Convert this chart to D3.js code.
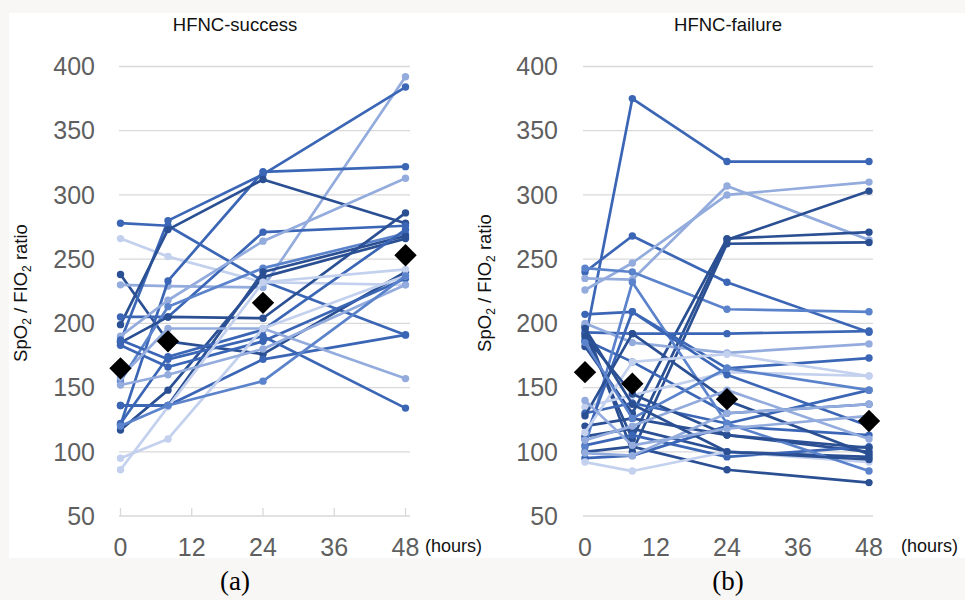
<!DOCTYPE html>
<html>
<head>
<meta charset="utf-8">
<script src="https://cdn.jsdelivr.net/npm/d3@7"></script>
<style>
  body { margin: 0; background: #f8f7f5; }
  svg { display: block; font-family: 'Liberation Sans', Arial, sans-serif; }
</style>
</head>
<body>
<div id="chart"></div>
<script>
// sampling times (hours)
const hours = [0, 8, 24, 48]
const xTicks = [0, 12, 24, 36, 48]
const yTicks = [50, 100, 150, 200, 250, 300, 350, 400]

// HFNC-success patients: SpO2/FIO2 at 0, 8, 24, 48 h
const successSeries = [
  [278, 276, 233, 191],
  [266, 252, 232, 230],
  [238, 186, 176, 240],
  [230, 229, 228, 392],
  [186, 280, 316, 384],
  [121, 233, 318, 322],
  [199, 273, 312, 278],
  [205, 205, 271, 276],
  [190, 218, 264, 313],
  [155, 213, 243, 270],
  [185, 205, 204, 286],
  [136, 136, 240, 268],
  [117, 148, 236, 266],
  [122, 174, 195, 273],
  [183, 166, 186, 235],
  [136, 136, 172, 191],
  [187, 172, 190, 134],
  [158, 196, 196, 157],
  [95, 110, 196, 237],
  [86, 135, 232, 242],
  [152, 160, 180, 230],
  [120, 136, 155, 237]
]
const successShade = [3, 0, 4, 1, 3, 3, 4, 3, 1, 2, 4, 4, 4, 3, 3, 3, 3, 1, 0, 0, 1, 2]
const successMean = [165, 186, 216, 253]

// HFNC-failure patients
const failureSeries = [
  [186, 375, 326, 326],
  [240, 268, 232, 193],
  [226, 247, 300, 310],
  [235, 234, 307, 265],
  [243, 240, 211, 209],
  [192, 110, 265, 303],
  [198, 100, 262, 263],
  [182, 130, 266, 271],
  [207, 209, 165, 173],
  [193, 192, 192, 194],
  [200, 185, 177, 184],
  [187, 170, 130, 137],
  [135, 144, 162, 159],
  [130, 138, 122, 148],
  [120, 126, 113, 100],
  [112, 118, 100, 96],
  [105, 113, 96, 104],
  [100, 104, 86, 76],
  [95, 97, 120, 113],
  [92, 85, 100, 92],
  [104, 232, 122, 85],
  [110, 209, 160, 120],
  [128, 192, 140, 98],
  [115, 170, 176, 159],
  [190, 145, 113, 103],
  [185, 126, 165, 148],
  [99, 97, 130, 137],
  [109, 120, 148, 110],
  [196, 137, 100, 94],
  [140, 105, 118, 128]
]
const failureShade = [3, 3, 1, 1, 2, 4, 4, 4, 3, 3, 1, 3, 0, 3, 4, 4, 3, 4, 3, 0, 2, 3, 4, 0, 4, 2, 1, 1, 4, 1]
const failureMean = [162, 153, 141, 124]

const blues = ['#c3d1ee', '#93acdd', '#5b83cc', '#3b66b6', '#2a4f93']

const width = 965
const height = 600

const svg = d3.select('#chart').append('svg')
  .attr('width', width)
  .attr('height', height)

svg.append('rect')
  .attr('x', 9).attr('y', 13)
  .attr('width', width - 9).attr('height', 545)
  .attr('fill', '#ffffff')

const y = d3.scaleLinear().domain([50, 400]).range([516, 66.5])

function panel (opts) {
  const x = d3.scaleLinear().domain([0, 48]).range(opts.xRange)
  const g = svg.append('g')

  // title
  g.append('text')
    .attr('x', opts.center).attr('y', 31)
    .attr('text-anchor', 'middle')
    .attr('font-size', '18.5px')
    .attr('fill', '#111')
    .text(opts.title)

  // grid
  g.append('g').selectAll('line')
    .data(yTicks)
    .join('line')
    .attr('x1', opts.gridX[0]).attr('x2', opts.gridX[1])
    .attr('y1', d => y(d)).attr('y2', d => y(d))
    .attr('stroke', '#d9d9d9')
    .attr('stroke-width', 1.3)

  if (opts.tickMarks) {
    g.append('g').selectAll('line')
      .data(xTicks)
      .join('line')
      .attr('x1', d => x(d)).attr('x2', d => x(d))
      .attr('y1', y(50) - 8).attr('y2', y(50))
      .attr('stroke', '#d9d9d9')
      .attr('stroke-width', 1.3)
  }

  // y tick labels
  g.append('g').selectAll('text')
    .data(yTicks)
    .join('text')
    .attr('x', opts.yLabelX)
    .attr('y', d => y(d))
    .attr('dy', '0.35em')
    .attr('text-anchor', 'end')
    .attr('font-size', '25px')
    .attr('fill', '#5f5f5f')
    .text(d => d)

  // x tick labels
  g.append('g').selectAll('text')
    .data(xTicks)
    .join('text')
    .attr('x', d => x(d))
    .attr('y', 556)
    .attr('text-anchor', 'middle')
    .attr('font-size', '25px')
    .attr('fill', '#5f5f5f')
    .text(d => d)

  g.append('text')
    .attr('x', opts.hoursX).attr('y', 552)
    .attr('font-size', '18px')
    .attr('fill', '#111')
    .text('(hours)')

  // y axis title
  const yt = g.append('text')
    .attr('transform', `translate(${opts.yTitleX},${opts.yTitleY}) rotate(-90)`)
    .attr('text-anchor', 'middle')
    .attr('font-size', '18.5px')
    .attr('fill', '#111')
  yt.append('tspan').text('SpO')
  yt.append('tspan').attr('font-size', '12px').attr('dy', 4).text('2')
  yt.append('tspan').attr('dy', -4).text(' / FIO')
  yt.append('tspan').attr('font-size', '12px').attr('dy', 4).text('2')
  yt.append('tspan').attr('dy', -4).text(' ratio')

  // patient lines
  const line = d3.line()
    .x((d, i) => x(hours[i]))
    .y(d => y(d))

  const series = g.append('g').selectAll('g')
    .data(opts.series)
    .join('g')
    .attr('fill', (d, i) => blues[opts.shade[i]])
    .attr('stroke', (d, i) => blues[opts.shade[i]])

  series.append('path')
    .attr('d', d => line(d))
    .attr('fill', 'none')
    .attr('stroke-width', 2.7)
    .attr('stroke-linejoin', 'round')

  series.selectAll('circle')
    .data(d => d)
    .join('circle')
    .attr('cx', (d, i) => x(hours[i]))
    .attr('cy', d => y(d))
    .attr('r', 3.7)
    .attr('stroke', 'none')

  // mean markers
  g.append('g').selectAll('path')
    .data(opts.mean)
    .join('path')
    .attr('d', d3.symbol(d3.symbolSquare, 250))
    .attr('transform', (d, i) => `translate(${x(hours[i])},${y(d)}) rotate(45)`)
    .attr('fill', '#000')

  // panel letter
  svg.append('text')
    .attr('x', opts.center).attr('y', 590)
    .attr('text-anchor', 'middle')
    .attr('font-family', "'Liberation Serif', 'Times New Roman', serif")
    .attr('font-size', '27px')
    .attr('fill', '#000')
    .text(opts.letter)
}

panel({
  title: 'HFNC-success',
  letter: '(a)',
  center: 235,
  xRange: [120.5, 405.5],
  gridX: [119, 410],
  tickMarks: true,
  yLabelX: 95,
  yTitleX: 27,
  yTitleY: 293,
  hoursX: 425,
  series: successSeries,
  shade: successShade,
  mean: successMean
})

panel({
  title: 'HFNC-failure',
  letter: '(b)',
  center: 728,
  xRange: [585, 869],
  gridX: [583, 873],
  tickMarks: false,
  yLabelX: 558,
  yTitleX: 491,
  yTitleY: 283,
  hoursX: 901,
  series: failureSeries,
  shade: failureShade,
  mean: failureMean
})
</script>
</body>
</html>
